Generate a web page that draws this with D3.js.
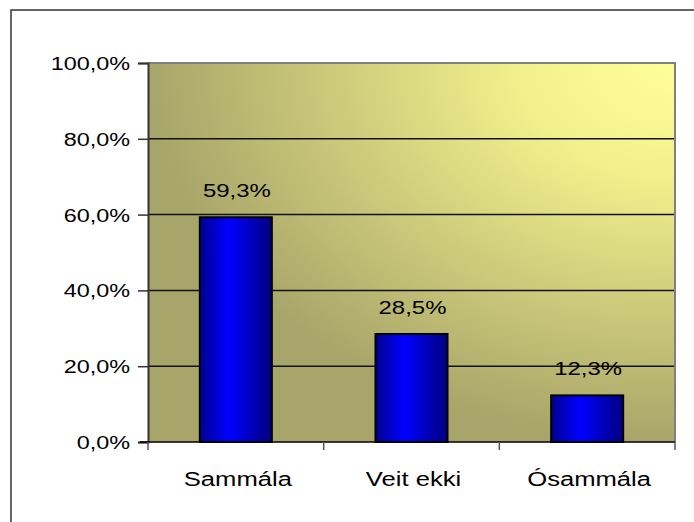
<html>
<head>
<meta charset="utf-8">
<script src="https://cdn.jsdelivr.net/npm/d3@7"></script>
<style>
  body { margin: 0; background: #fff; }
  text { font-family: "Liberation Sans", Arial, sans-serif; fill: #000; }
</style>
</head>
<body>
<svg id="chart" width="694" height="522"></svg>
<script>
  var categories = ["Sammála", "Veit ekki", "Ósammála"];
  var values = [59.3, 28.5, 12.3];
  var yTicks = [0, 20, 40, 60, 80, 100];

  var fmt = v => d3.format(".1f")(v).replace(".", ",") + "%";

  // the source renders its text wide; stretch glyphs horizontally
  function stretch(sel, k) {
    sel.each(function() {
      var w = this.getComputedTextLength();
      d3.select(this).attr("textLength", w * k).attr("lengthAdjust", "spacingAndGlyphs");
    });
  }

  var svg = d3.select("#chart");
  var margin = {left: 148, top: 63, right: 19, bottom: 80};
  var width = 694 - margin.left - margin.right;
  var height = 522 - margin.top - margin.bottom;

  var defs = svg.append("defs");
  var bg = defs.append("radialGradient").attr("id", "bg")
    .attr("cx", 1).attr("cy", 0).attr("r", 1).attr("fx", 1).attr("fy", 0);
  bg.append("stop").attr("offset", "0%").attr("stop-color", "#ffff99");
  bg.append("stop").attr("offset", "30%").attr("stop-color", "#f2f08c");
  bg.append("stop").attr("offset", "100%").attr("stop-color", "#a8a56a");

  var barGrad = defs.append("linearGradient").attr("id", "bar")
    .attr("x1", 0).attr("x2", 1).attr("y1", 0).attr("y2", 0);
  barGrad.append("stop").attr("offset", "0%").attr("stop-color", "#000090");
  barGrad.append("stop").attr("offset", "40%").attr("stop-color", "#0000ff");
  barGrad.append("stop").attr("offset", "100%").attr("stop-color", "#000080");

  // outer frame (only top/left visible)
  svg.append("rect").attr("x", 11).attr("y", 10).attr("width", 700).attr("height", 540)
    .attr("fill", "none").attr("stroke", "#333").attr("stroke-width", 1.5);

  var x = d3.scaleBand().domain(categories).range([0, width]).paddingInner(0.59).paddingOuter(0.295);
  var y = d3.scaleLinear().domain([0, 100]).range([height, 0]);

  var g = svg.append("g").attr("transform", `translate(${margin.left},${margin.top})`);

  g.append("rect").attr("width", width).attr("height", height).attr("fill", "url(#bg)");

  // gridlines
  g.selectAll(".grid").data(yTicks.filter(t => t > 0 && t < 100)).enter()
    .append("line")
    .attr("x1", 0).attr("x2", width)
    .attr("y1", d => y(d)).attr("y2", d => y(d))
    .attr("stroke", "#111").attr("stroke-width", 1.5);

  // plot border top/right
  g.append("path")
    .attr("d", `M0,${y(100)}H${width}V${height}`)
    .attr("fill", "none").attr("stroke", "#808080").attr("stroke-width", 2);

  // bars
  g.selectAll(".bar").data(values).enter()
    .append("rect")
    .attr("x", (d, i) => x(categories[i]))
    .attr("width", x.bandwidth())
    .attr("y", d => y(d))
    .attr("height", d => height - y(d))
    .attr("fill", "url(#bar)")
    .attr("stroke", "#000").attr("stroke-width", 2);

  // value labels
  g.selectAll(".lbl").data(values).enter()
    .append("text")
    .attr("x", (d, i) => x(categories[i]) + x.bandwidth() / 2 + 1)
    .attr("y", d => y(d) - 20)
    .attr("text-anchor", "middle")
    .style("font-size", "19px")
    .text(d => fmt(d))
    .call(stretch, 1.26);

  // y axis
  var yAxis = d3.axisLeft(y).tickValues(yTicks).tickSize(10).tickPadding(8).tickFormat(d => fmt(d));
  var ya = g.append("g").call(yAxis);
  ya.select(".domain").attr("stroke", "#333").attr("stroke-width", 2);
  ya.selectAll(".tick line").attr("stroke", "#333").attr("stroke-width", 1.5);
  ya.selectAll(".tick text").style("font-size", "18px")
    .attr("font-family", null).attr("fill", "#000").attr("dy", "0.36em")
    .call(stretch, 1.3);

  // x axis
  var xa = g.append("g").attr("transform", `translate(0,${height})`);
  xa.append("line").attr("x1", -8).attr("x2", width).attr("stroke", "#000").attr("stroke-width", 1.5);
  var bounds = [0].concat(categories.map(c => x(c) + x.bandwidth() + x.step() * x.paddingInner() / 2));
  bounds[bounds.length - 1] = width;
  xa.selectAll(".xt").data(bounds).enter().append("line")
    .attr("x1", d => d).attr("x2", d => d).attr("y1", 0).attr("y2", 8)
    .attr("stroke", "#555").attr("stroke-width", 1.5);
  xa.selectAll(".xl").data(categories).enter().append("text")
    .attr("x", d => x(d) + x.bandwidth() / 2 + 2)
    .attr("y", 44)
    .attr("text-anchor", "middle")
    .style("font-size", "20px")
    .text(d => d)
    .call(stretch, 1.28);
</script>
</body>
</html>
